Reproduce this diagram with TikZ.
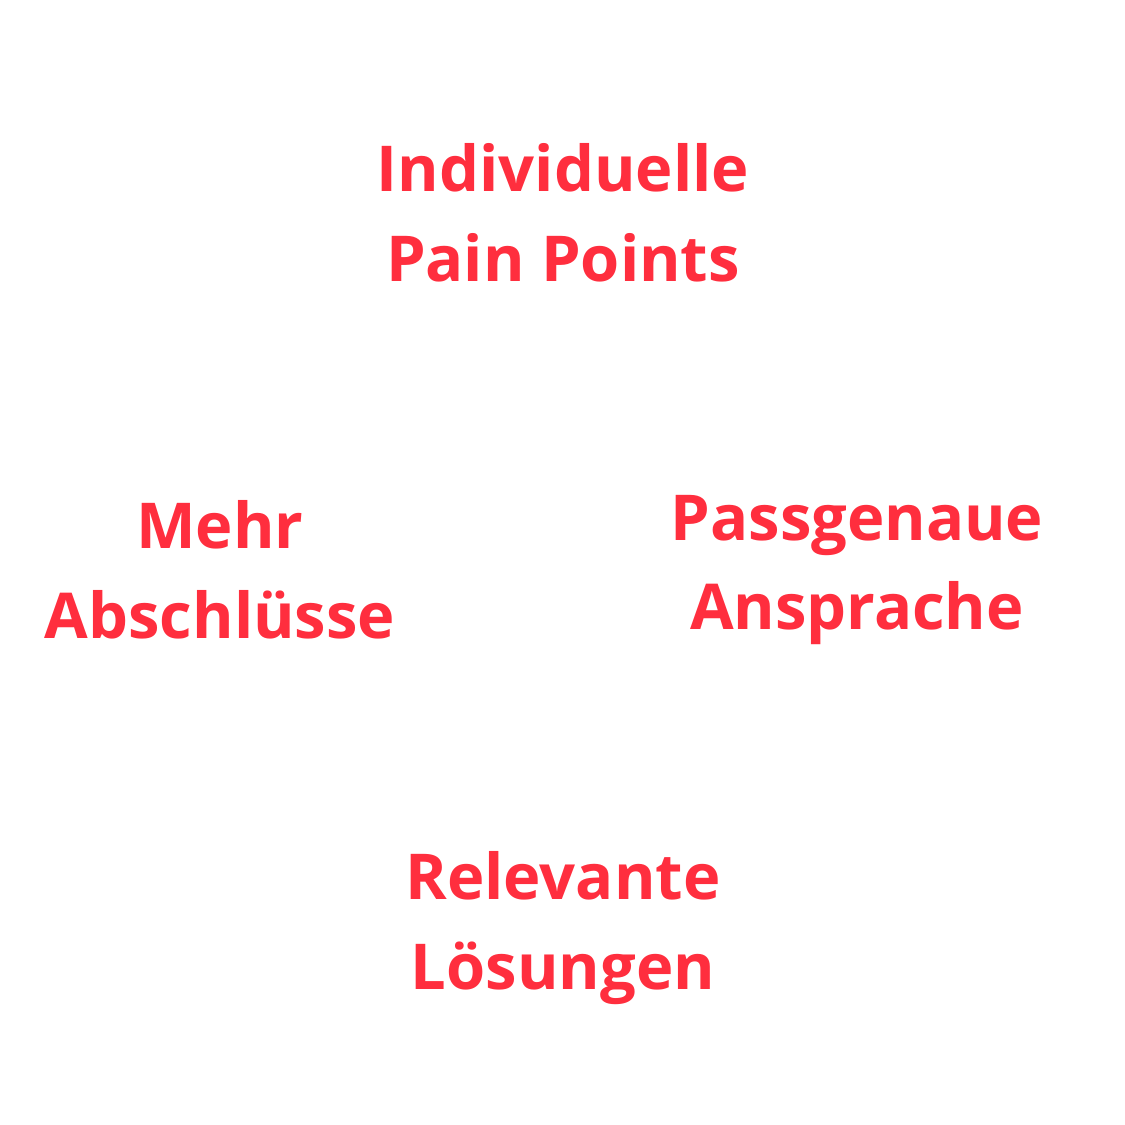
\documentclass[tikz,border=0pt]{standalone}
\usepackage{fontspec}
\setmainfont{Open Sans}
\definecolor{brandred}{HTML}{FF2E3E}
\begin{document}
\begin{tikzpicture}
[every node/.style={align=center,text=brandred,font=\fontsize{36}{51}\selectfont\bfseries}]
\useasboundingbox (0,0) rectangle (22.5,22.5);
\node (pain) at (11.26,18.24) {Individuelle\\Pain Points};
\node (mehr) at (4.4,11.1) {Mehr\\Abschlüsse};
\node (pass) at (17.14,11.1) {Passgenaue\\Ansprache};
\node (loes) at (11.26,3.94) {Relevante\\Lösungen};
\end{tikzpicture}
\end{document}
